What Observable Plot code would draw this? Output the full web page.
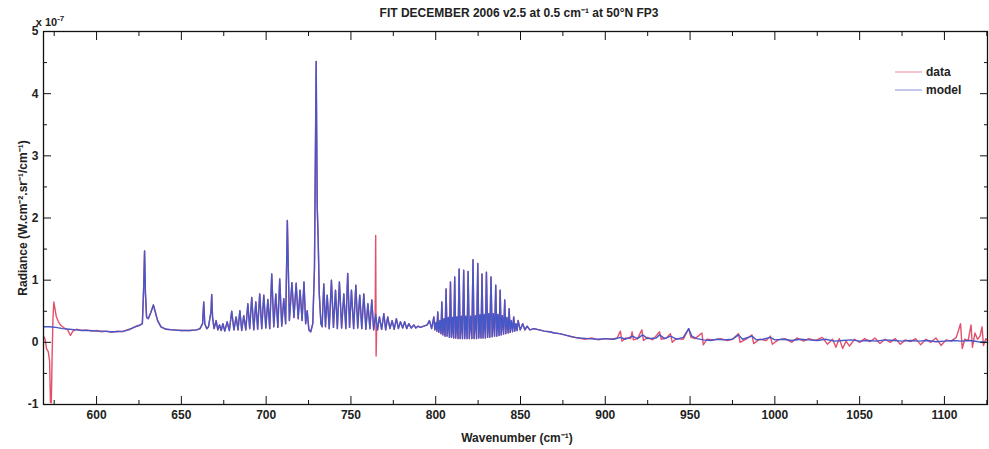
<!DOCTYPE html>
<html>
<head>
<meta charset="utf-8">
<script src="https://cdn.jsdelivr.net/npm/d3@7"></script>
<script src="https://cdn.jsdelivr.net/npm/@observablehq/plot@0.6"></script>
<style>
  html, body { margin: 0; padding: 0; background: #fff; }
  #chart { width: 989px; height: 449px; }
</style>
</head>
<body>
<div id="chart"></div>
<script>
// Radiance values in units of 1e-7 W.cm-2.sr-1/cm-1, wavenumber in cm-1
const xTickLabels = [600, 650, 700, 750, 800, 850, 900, 950, 1000, 1050, 1100];
const xMinorTicks = [575, 625, 675, 725, 775, 825, 875, 925, 975, 1025, 1075, 1125];
const yTickLabels = [-1, 0, 1, 2, 3, 4, 5];
const yMinorTicks = [-0.5, 0.5, 1.5, 2.5, 3.5, 4.5];
const seriesNames = ["data", "model"];

// model: continuum + lines 569-669
const modelA = [[568.7,0.25],[572,0.25],[576,0.24],[580,0.22],[584,0.21],[588,0.2],[592,0.19],[596,0.19],[600,0.18],[604,0.18],[608,0.17],[612,0.17],[616,0.18],[619,0.2],[622,0.24],[625,0.27],[627,0.3],[627.8,0.9],[628.3,1.47],[628.8,0.8],[629.5,0.4],[630.5,0.38],[632,0.48],[633.5,0.6],[634.5,0.5],[636,0.35],[638,0.25],[641,0.21],[645,0.2],[650,0.19],[655,0.19],[659,0.2],[661,0.22],[662.5,0.3],[663.2,0.65],[663.8,0.3],[665,0.22],[666,0.25],[667.5,0.5],[667.9,0.77],[668.4,0.4]];

// model: band 669-793
const modelB = [[669.3,0.22],[670.5,0.35],[671.5,0.2],[672.5,0.28],[673.5,0.19],[674.5,0.3],[675.6,0.18],[677,0.33],[678.3,0.19],[679.7,0.5],[681,0.2],[682.3,0.41],[683.4,0.2],[684.5,0.51],[685.6,0.19],[686.8,0.43],[688,0.2],[689.2,0.62],[690.3,0.22],[691.5,0.72],[692.7,0.2],[693.9,0.65],[695,0.21],[696.2,0.78],[697.4,0.22],[698.6,0.76],[699.8,0.23],[701,0.69],[702.1,0.22],[703.3,1.1],[704.5,0.25],[705.7,0.78],[706.9,0.24],[708,1.02],[709.2,0.26],[710.4,0.7],[711.5,0.3],[712.5,1.96],[713.7,0.35],[715.2,0.96],[716.4,0.4],[717.7,0.95],[718.9,0.38],[720,0.84],[721.2,0.35],[722.3,0.97],[723.3,0.3],[724.2,0.51],[725.2,0.2],[726.3,0.17],[727.5,0.3],[728.5,1.2],[729.5,4.52],[730.1,2.2],[730.7,1.64],[731.3,0.8],[732.3,0.3],[733,0.25],[734,0.94],[735,0.25],[736,0.76],[737.2,0.22],[738.5,1.0],[739.7,0.24],[740.9,0.84],[742,0.22],[743.2,0.97],[744.5,0.23],[745.8,0.78],[747,0.22],[748.1,1.11],[749.2,0.24],[750.3,0.84],[751.6,0.22],[752.9,0.92],[754,0.23],[755.2,0.76],[756.4,0.22],[757.6,0.78],[758.8,0.21],[760,0.62],[761.2,0.22],[762.3,0.68],[763.4,0.2],[764.6,0.45],[765.7,0.2],[766.8,0.41],[768.1,0.21],[769.4,0.46],[770.5,0.2],[771.7,0.41],[773,0.22],[774.3,0.35],[775.5,0.21],[776.8,0.38],[778,0.22],[779.2,0.33],[780.5,0.23],[781.7,0.33],[782.9,0.22],[784.1,0.3],[785.6,0.23],[787.1,0.28],[788.3,0.23],[789.5,0.26],[791,0.24]];

// model: band 793-885
const modelC = [[793,0.26],[795,0.28],[796.3,0.35],[797.6,0.22],[798.9,0.41],[799.5,0.2],[800.2,0.32],[800.7,0.18],[801.2,0.49],[801.8,0.16],[802.5,0.35],[803.1,0.14],[803.6,0.65],[804.2,0.12],[804.9,0.38],[805.5,0.1],[806.1,0.86],[806.7,0.1],[807.4,0.4],[808.1,0.08],[808.7,0.97],[809.3,0.08],[810,0.4],[810.6,0.07],[811.2,1.05],[811.8,0.07],[812.5,0.41],[813.2,0.06],[813.8,1.18],[814.4,0.06],[815.1,0.42],[815.8,0.06],[816.5,1.16],[817.1,0.06],[817.8,0.42],[818.5,0.06],[819.1,1.14],[819.8,0.06],[820.6,0.42],[821.3,0.06],[822,1.33],[822.6,0.06],[823.4,0.43],[824.1,0.06],[824.8,1.27],[825.4,0.07],[826.1,0.44],[826.7,0.07],[827.3,1.1],[827.9,0.07],[828.6,0.45],[829.3,0.07],[829.9,1.13],[830.6,0.08],[831.3,0.46],[831.9,0.08],[832.6,1.05],[833.3,0.09],[834,0.46],[834.7,0.1],[835.4,0.92],[836,0.1],[836.7,0.45],[837.4,0.11],[838,0.84],[838.6,0.12],[839.3,0.43],[840,0.13],[840.7,0.68],[841.3,0.14],[842,0.4],[842.7,0.15],[843.3,0.54],[843.9,0.16],[844.6,0.35],[845.3,0.17],[846,0.41],[846.6,0.18],[847.3,0.3],[848,0.19],[848.6,0.35],[849.8,0.2],[851.3,0.3],[852.6,0.2],[853.9,0.26],[855.5,0.2],[858,0.22],[861,0.2],[864,0.18],[867,0.17],[870,0.15],[873,0.14],[876,0.12],[879,0.1],[882,0.08],[885,0.07]];

// model: window 885-1125
const modelD = [[890,0.06],[895,0.05],[900,0.06],[905,0.05],[909,0.08],[912,0.05],[916,0.1],[919,0.06],[922,0.12],[925,0.06],[930,0.07],[932,0.12],[935,0.06],[938.5,0.1],[942,0.05],[946,0.08],[949.2,0.22],[951,0.1],[954,0.06],[958,0.04],[962,0.03],[966,0.05],[970,0.04],[975,0.05],[978.6,0.12],[981,0.05],[986.5,0.1],[989,0.04],[993,0.05],[997.3,0.08],[1000,0.04],[1005,0.05],[1010,0.03],[1015,0.05],[1020,0.04],[1025,0.03],[1030,0.05],[1035,0.02],[1040,0.03],[1045,0.04],[1050,0.02],[1055,0.03],[1060,0.02],[1065,0.04],[1070,0.03],[1075,0.02],[1080,0.03],[1085,0.02],[1090,0.03],[1095,0.01],[1100,0.02],[1105,0.03],[1110,0.02],[1115,0.03],[1120,0.01],[1125.4,0.0]];

// data where it departs from the model
const dataLeft = [[568.7,0.1],[569.6,0.05],[570.5,-0.1],[571.5,-0.15],[572.3,-0.3],[572.8,-0.97],[573.3,-0.97],[573.8,-0.2],[574.3,0.4],[574.8,0.65],[575.4,0.55],[576.2,0.42],[577.5,0.33],[579,0.27],[581,0.23],[583,0.2],[584.6,0.11],[586,0.18],[588,0.21],[591,0.19],[594,0.2],[597,0.18],[600,0.19],[603,0.17],[606,0.18],[609,0.16],[612,0.18],[615,0.17],[618,0.2],[621,0.23],[624,0.27]];
const dataSpike = [[764.3,0.42],[764.6,1.72],[764.85,-0.22],[765.2,0.25]];
const dataRight = [[880,0.09],[884,0.07],[888,0.05],[892,0.07],[896,0.04],[900,0.06],[904,0.05],[907,0.07],[908.9,0.18],[909.8,0.02],[912,0.07],[915,0.06],[915.8,0.17],[916.6,0.04],[919,0.06],[921.6,0.2],[922.5,0.03],[925,0.08],[928,0.04],[932,0.17],[933,0.05],[936,0.07],[938.4,0.14],[939.5,0.0],[942,0.06],[946,0.05],[949.2,0.22],[950.5,0.08],[953,0.06],[957,0.15],[957.8,-0.04],[960,0.05],[964,0.04],[968,0.06],[972,0.03],[975,0.05],[978.6,0.14],[979.5,0.0],[983,0.05],[986.5,0.12],[987.5,-0.02],[991,0.05],[995,0.03],[997.3,0.1],[998.5,-0.03],[1002,0.04],[1006,0.06],[1010,0.0],[1013,0.07],[1017,0.02],[1020,0.06],[1024,0.03],[1028,0.08],[1031,-0.03],[1034,0.05],[1036,-0.08],[1038,0.06],[1040,-0.1],[1042,0.02],[1044,-0.06],[1047,0.05],[1050,0.0],[1053,0.06],[1056,0.01],[1059,0.07],[1062,-0.02],[1065,0.05],[1068,0.0],[1071,0.06],[1074,-0.03],[1077,0.04],[1080,0.01],[1083,0.06],[1086,-0.04],[1089,0.05],[1092,0.0],[1095,0.07],[1098,-0.05],[1101,0.04],[1104,0.02],[1107,0.08],[1109.5,0.3],[1110.5,-0.1],[1112,0.05],[1114,0.03],[1115.7,0.28],[1116.5,-0.08],[1118,0.15],[1119.5,0.05],[1121,0.1],[1122.2,0.25],[1123,-0.05],[1124.5,0.06],[1125.4,0.03]];

const RED = "#e2506c";
const BLUE = "#4658c8";

const model = [...modelA, ...modelB, ...modelC, ...modelD];
// elsewhere the data coincide with the model (hidden under it)
const data = [
  ...dataLeft,
  ...model.filter(d => d[0] >= 625 && d[0] < 764.2),
  ...dataSpike,
  ...model.filter(d => d[0] > 765.5 && d[0] < 879),
  ...dataRight
];

const FONT = "'Liberation Sans', Arial, Helvetica, sans-serif";

const chart = Plot.plot({
  width: 989,
  height: 449,
  marginLeft: 43,
  marginRight: 2,
  marginTop: 31,
  marginBottom: 45,
  x: {domain: [568.7, 1125.4], label: null},
  y: {domain: [-1, 5], label: null},
  style: {fontFamily: FONT, fontSize: "12px", fontWeight: "bold", background: "white", color: "#222"},
  marks: [
    Plot.line(data, {x: d => d[0], y: d => d[1], stroke: RED, strokeWidth: 1.4}),
    Plot.line(model, {x: d => d[0], y: d => d[1], stroke: BLUE, strokeWidth: 1.4}),
    Plot.frame({stroke: "#111", strokeWidth: 1.3}),
    Plot.axisX(xTickLabels, {anchor: "bottom", tickSize: -8, tickPadding: 14, tickFormat: d => String(d), label: null, stroke: "#111"}),
    Plot.axisX(xMinorTicks, {anchor: "bottom", tickSize: -4, tickFormat: () => "", label: null, stroke: "#111"}),
    Plot.axisX(xTickLabels, {anchor: "top", tickSize: -8, tickFormat: () => "", label: null, stroke: "#111"}),
    Plot.axisX(xMinorTicks, {anchor: "top", tickSize: -4, tickFormat: () => "", label: null, stroke: "#111"}),
    Plot.axisY(yTickLabels, {anchor: "left", tickSize: -8, tickPadding: 13, tickFormat: d => String(d), label: null, stroke: "#111"}),
    Plot.axisY(yMinorTicks, {anchor: "left", tickSize: -4, tickFormat: () => "", label: null, stroke: "#111"}),
    Plot.axisY(yTickLabels, {anchor: "right", tickSize: -8, tickFormat: () => "", label: null, stroke: "#111"}),
    Plot.axisY(yMinorTicks, {anchor: "right", tickSize: -4, tickFormat: () => "", label: null, stroke: "#111"})
  ]
});

document.getElementById("chart").appendChild(chart);

// annotations
const svg = d3.select(chart);
const txt = (x, y, s, anchor = "middle") => svg.append("text")
  .attr("x", x).attr("y", y).attr("text-anchor", anchor)
  .attr("font-family", FONT).attr("font-weight", "bold").attr("font-size", 12)
  .attr("fill", "#222").text(s);

txt(519, 17, "FIT DECEMBER 2006 v2.5 at 0.5 cm\u207B\u00B9 at 50\u00B0N FP3");
txt(517, 442, "Wavenumber (cm\u207B\u00B9)");
svg.append("text")
  .attr("transform", "translate(27,218) rotate(-90)")
  .attr("text-anchor", "middle")
  .attr("font-family", FONT).attr("font-weight", "bold").attr("font-size", 12)
  .attr("fill", "#222")
  .text("Radiance (W.cm\u207B\u00B2.sr\u207B\u00B9/cm\u207B\u00B9)");

const mult = svg.append("text").attr("x", 50).attr("y", 26)
  .attr("font-family", FONT).attr("font-weight", "bold").attr("font-size", 11).attr("fill", "#222");
mult.append("tspan").text("x 10");
mult.append("tspan").attr("dy", -5).attr("font-size", 8).text("-7");

// legend
const legendColors = [RED, BLUE];
seriesNames.forEach((name, i) => {
  const y = 72 + i * 18;
  svg.append("line").attr("x1", 895).attr("x2", 922).attr("y1", y).attr("y2", y)
    .attr("stroke", legendColors[i]).attr("stroke-width", 1.2).attr("stroke-opacity", 0.55);
  txt(926, y + 4, name, "start");
});
</script>
</body>
</html>
